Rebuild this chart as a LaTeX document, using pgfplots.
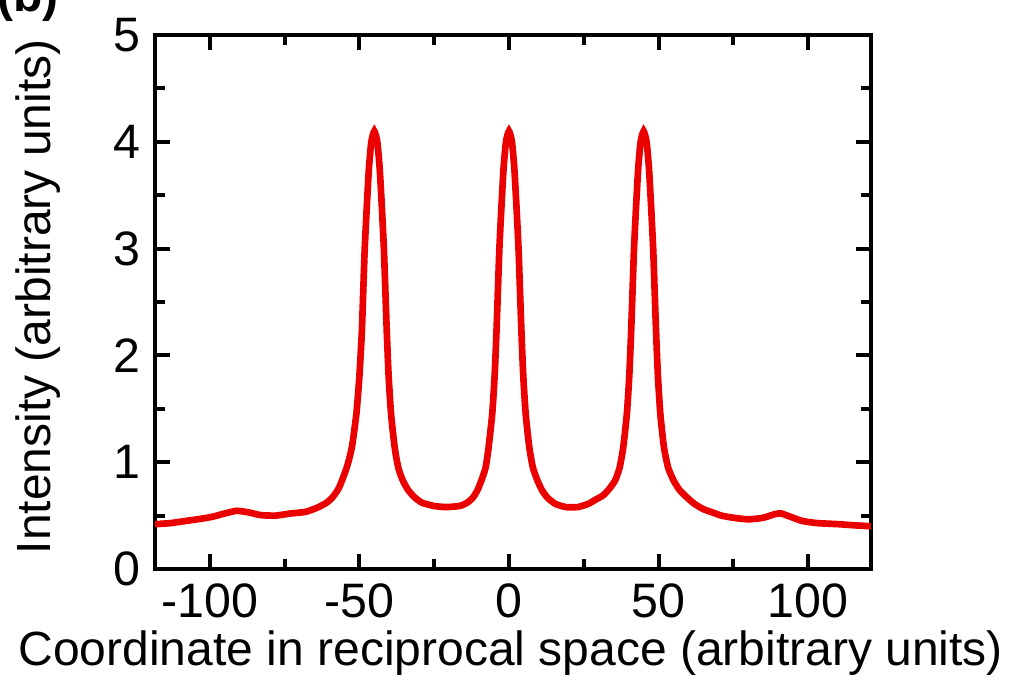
\documentclass[border=0pt]{standalone}
\usepackage{fontspec}
\setmainfont{Liberation Sans}
\usepackage{pgfplots}
\pgfplotsset{compat=1.18}
\definecolor{curvered}{RGB}{235,0,0}
\begin{document}
\begin{tikzpicture}
\useasboundingbox (-46.5pt,-33.6pt) rectangle (256.2pt,170.7pt);
\node[anchor=base west,font=\fontsize{14.4}{16}\selectfont\bfseries,inner sep=0pt] at (-47.5pt,167.2pt) {(b)};
\begin{axis}[
  at={(0,0)}, anchor=south west,
  width=214.8pt, height=160.2pt, scale only axis,
  xmin=-118.3, xmax=121, ymin=0, ymax=5,
  xtick={-100,-50,0,50,100}, ytick={0,1,2,3,4,5},
  minor x tick num=1, minor y tick num=1,
  tick align=inside,
  major tick length=4.5pt, minor tick length=3pt,
  axis line style={line width=1.2pt},
  every tick/.style={line width=1.2pt, black},
  tick label style={font=\fontsize{14.5}{16}\selectfont},
  /pgf/number format/assume math mode=true,
  xticklabel style={yshift=-1pt},
  yticklabel style={xshift=-1pt},
  label style={font=\fontsize{14.4}{16}\selectfont},
  xlabel={Coordinate in reciprocal space (arbitrary units)},
  ylabel={Intensity (arbitrary units)},
  xlabel style={at={(axis description cs:0.497,-0.18)}, anchor=base},
  ylabel style={at={(axis description cs:-0.163,0.51)}, anchor=center},
]
\addplot[curvered, line width=2pt, smooth, tension=0.35] coordinates {
(-118.3,0.42) (-113,0.43) (-108,0.45) (-103,0.47) (-99,0.49) (-95,0.52) (-91,0.545)
(-87,0.53) (-83,0.505) (-78,0.50) (-73,0.52) (-68,0.535) (-64,0.575) (-61,0.62)
(-59,0.67) (-57,0.75) (-55.5,0.85) (-54,0.97) (-52.5,1.14) (-51,1.45) (-50,1.8)
(-49.2,2.2) (-48.7,2.6) (-48.2,3.0) (-47.5,3.4) (-46.8,3.75) (-46,4.0) (-45,4.1)
(-44,4.0) (-43.2,3.75) (-42.5,3.4) (-41.8,3.0) (-41.3,2.6) (-40.8,2.2) (-40.2,1.8)
(-39.4,1.45) (-38.2,1.14) (-37,0.95) (-35.5,0.83) (-33.7,0.74) (-31.5,0.67)
(-29,0.62) (-25,0.59) (-21,0.58) (-16.5,0.59) (-14,0.62) (-12,0.67) (-10.5,0.74)
(-9.2,0.83) (-7.8,0.95) (-6.8,1.14) (-5.6,1.45) (-4.8,1.8) (-4.2,2.2) (-3.7,2.6)
(-3.2,3.0) (-2.5,3.4) (-1.8,3.75) (-1,4.0) (0,4.1) (1,4.0) (1.8,3.75) (2.5,3.4)
(3.2,3.0) (3.7,2.6) (4.2,2.2) (4.8,1.8) (5.6,1.45) (6.8,1.14) (8,0.95) (9.5,0.83)
(11,0.74) (12.8,0.67) (15.5,0.61) (19,0.58) (23,0.58) (26.5,0.61) (29,0.65)
(31.5,0.69) (33.5,0.75) (35.5,0.83) (37,0.95) (38.2,1.14) (39.4,1.45) (40.2,1.8)
(40.8,2.2) (41.3,2.6) (41.8,3.0) (42.5,3.4) (43.2,3.75) (44,4.0) (45,4.1) (46,4.0)
(46.8,3.75) (47.5,3.4) (48.2,3.0) (48.7,2.6) (49.2,2.2) (49.8,1.8) (50.6,1.45)
(51.8,1.14) (53.2,0.95) (55,0.83) (57,0.74) (59.5,0.67) (62,0.61) (65,0.56)
(68,0.53) (71,0.50) (75,0.48) (80,0.465) (85,0.48) (89,0.515) (91,0.52) (94,0.49)
(98,0.45) (103,0.43) (110,0.42) (115,0.41) (121,0.40)
};
\end{axis}
\end{tikzpicture}
\end{document}
